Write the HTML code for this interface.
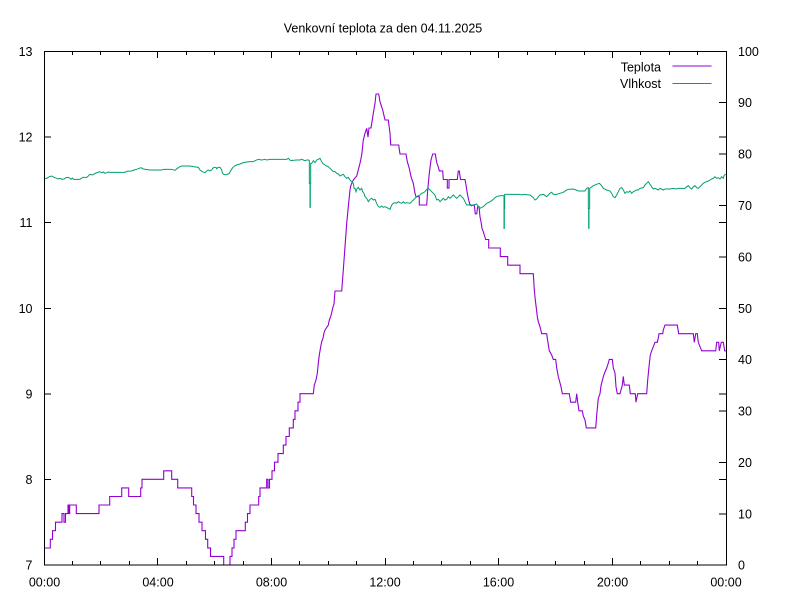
<!DOCTYPE html>
<html>
<head>
<meta charset="utf-8">
<style>
html,body{margin:0;padding:0;background:#fff;}
svg{display:block;}
text{font-family:"Liberation Sans",Arial,sans-serif;font-size:12.5px;fill:#000;}
</style>
</head>
<body>
<svg width="800" height="600" viewBox="0 0 800 600" xmlns="http://www.w3.org/2000/svg">
<rect x="0" y="0" width="800" height="600" fill="#fff"/>
<defs>
<clipPath id="plot"><rect x="44" y="51" width="683" height="514.5"/></clipPath>
</defs>

<!-- title -->
<text x="383" y="32.5" text-anchor="middle">Venkovní teplota za den 04.11.2025</text>

<!-- ticks -->
<g stroke="#000" stroke-width="1" fill="none">
  <!-- left y1 ticks + mirror on right -->
  <path d="M44,51.5h7 M44,137h7 M44,222.5h7 M44,308.5h7 M44,394h7 M44,479.5h7 M44,565h7"/>
  <path d="M726,137h-7 M726,222.5h-7 M726,394h-7 M726,479.5h-7"/>
  <!-- right y2 ticks -->
  <path d="M726,51.5h-7 M726,102.5h-7 M726,154h-7 M726,205.5h-7 M726,257h-7 M726,308.5h-7 M726,359.5h-7 M726,411h-7 M726,462.5h-7 M726,514h-7 M726,565h-7"/>
  <!-- bottom x ticks -->
  <path d="M44.5,565v-7 M157.5,565v-7 M271.5,565v-7 M385.5,565v-7 M498.5,565v-7 M612.5,565v-7 M726.5,565v-7"/>
  <path d="M72.5,565v-4 M100.5,565v-4 M129.5,565v-4 M186.5,565v-4 M214.5,565v-4 M243.5,565v-4 M299.5,565v-4 M328.5,565v-4 M356.5,565v-4 M413.5,565v-4 M441.5,565v-4 M470.5,565v-4 M527.5,565v-4 M555.5,565v-4 M584.5,565v-4 M640.5,565v-4 M669.5,565v-4 M697.5,565v-4"/>
  <!-- top x ticks (mirror) -->
  <path d="M157.5,51v7 M271.5,51v7 M385.5,51v7 M498.5,51v7 M612.5,51v7"/>
  <path d="M72.5,51v4 M100.5,51v4 M129.5,51v4 M186.5,51v4 M214.5,51v4 M243.5,51v4 M299.5,51v4 M328.5,51v4 M356.5,51v4 M413.5,51v4 M441.5,51v4 M470.5,51v4 M527.5,51v4 M555.5,51v4 M584.5,51v4 M640.5,51v4 M669.5,51v4 M697.5,51v4"/>
</g>

<!-- left labels -->
<g text-anchor="end">
  <text x="32.5" y="56">13</text>
  <text x="32.5" y="141.5">12</text>
  <text x="32.5" y="227">11</text>
  <text x="32.5" y="313">10</text>
  <text x="32.5" y="398.5">9</text>
  <text x="32.5" y="484">8</text>
  <text x="32.5" y="569.5">7</text>
</g>
<!-- right labels -->
<g text-anchor="start">
  <text x="738" y="56">100</text>
  <text x="738" y="107">90</text>
  <text x="738" y="158.5">80</text>
  <text x="738" y="210">70</text>
  <text x="738" y="261.5">60</text>
  <text x="738" y="313">50</text>
  <text x="738" y="364">40</text>
  <text x="738" y="415.5">30</text>
  <text x="738" y="467">20</text>
  <text x="738" y="518.5">10</text>
  <text x="738" y="569.5">0</text>
</g>
<!-- x labels -->
<g text-anchor="middle">
  <text x="44.5" y="586.5">00:00</text>
  <text x="158" y="586.5">04:00</text>
  <text x="271.5" y="586.5">08:00</text>
  <text x="385" y="586.5">12:00</text>
  <text x="498.5" y="586.5">16:00</text>
  <text x="612.5" y="586.5">20:00</text>
  <text x="726" y="586.5">00:00</text>
</g>

<!-- legend -->
<text x="661" y="71.5" text-anchor="end">Teplota</text>
<text x="661" y="88" text-anchor="end">Vlhkost</text>
<line x1="672.5" y1="66" x2="711.5" y2="66" stroke="#9400D3" stroke-width="1"/>
<line x1="672.5" y1="83.5" x2="711.5" y2="83.5" stroke="#009E73" stroke-width="1"/>

<g clip-path="url(#plot)">
<!-- Teplota -->
<polyline fill="none" stroke="#9400D3" stroke-width="1.1" stroke-linejoin="miter" points="
44,548 50.3,548 50.3,539.3 52.5,539.3 52.5,530.7 55.5,530.7 55.5,522.2 62,522.2 62,513.6 64,513.6 64,522.2 65.5,522.2 65.5,513.6 68,513.6 68,505 69,505 69,513.6 69.7,513.6 69.7,505 76.3,505 76.3,513.6 99,513.6 99,505 109.7,505 109.7,496.5 121.7,496.5 121.7,487.9 128.7,487.9 128.7,496.5 140.7,496.5 140.7,487.9 142,487.9 142,479.3 163.7,479.3 163.7,470.8 171.7,470.8 171.7,479.3 177.7,479.3 177.7,487.9 191.7,487.9 191.7,496.5 193.5,496.5 193.5,505 196,505 196,513.6 199,513.6 199,522.2 202,522.2 202,530.7 205.5,530.7 205.5,539.3 207.7,539.3 207.7,547.9 210.5,547.9 210.5,556.4 223.7,556.4 223.7,575 230,575 230,556.4 232,556.4 232,547.9 234,547.9 234,539.3 236,539.3 236,530.7 245.3,530.7 245.3,522.2 247.5,522.2 247.5,513.6 250,513.6 250,505 258.7,505 258.7,496.5 260,496.5 260,487.9 266.7,487.9 266.7,479.3 268,479.3 268,487.9 269.5,487.9 269.5,479.3 272,479.3 272,470.8 274.5,470.8 274.5,462.2 278,462.2 278,453.6 283.3,453.6 283.3,445.1 286,445.1 286,436.5 289.3,436.5 289.3,427.9 293.3,427.9 293.3,419.4 295,419.4 295,410.8 298,410.8 298,402.2 300,402.2 300,393.7 313.3,393.7 314.3,385.1 316,380 317.3,373.3 318.3,363.3 319.3,355 320.7,346.7 321.7,341.7 323,338 324,333 325,330 328.3,325 329.3,320 330.7,316.6 331.7,312.7 332.7,308 334,304 335,291 341.7,291 343.3,270 346.7,223.3 348.3,206.7 350,190 351,185 353.3,180 356.7,176 360,163.3 361.7,155 363.3,140 365,133.3 366.7,128.3 368,137 369,128 371,128 373.3,113.3 375,103.3 376,94 378.7,94 380,101.7 382.7,110 385,120 388.3,120 390,133.3 390.7,145 398.7,145 400,154 406,154 407.3,161.7 409.3,168.3 411,176.7 413.3,183.3 415,193.3 416,196.7 419.3,196.7 419.3,205 426.7,205 427.7,190 429.3,173.3 431,160 432.7,154 435.3,154 436.7,162.4 438.3,167 439.3,170.9 442.7,170.9 443.3,179.5 447.3,179.5 447.3,188.1 449,188.1 449,179.5 457.3,179.5 458.3,171 459.3,171 460.5,179.5 465,179.5 466,185 467.3,193.3 468.7,200 470,205.2 474.3,205.2 475.3,213.8 476.7,213.8 477.7,206.7 479,206.7 480,216.7 481,221.7 482,228.3 483.3,231.7 484.3,235 485.7,239.5 488.7,239.5 488.7,248 500.3,248 500.3,256.6 507.7,256.6 507.7,265.2 520,265.2 520,273.7 533.3,273.7 534.3,290 535.3,300 536.3,308 537.3,316.6 538.3,321.7 540,326.7 541.7,333.7 546.7,333.7 547.3,338.3 549.3,350.8 551.7,355 553.3,359.4 555.7,359.4 556.7,368 558.3,376.5 561,386.7 562.3,393.7 569.3,393.7 570.7,402.2 575.7,402.2 576.7,393.7 577.7,402.2 579,410.8 582.3,410.8 583.3,416 585,420 586.3,427.9 595.7,427.9 596.7,415 598.3,398.3 600,393.7 601,385.7 603.3,376.7 605,372 606.7,368 608.3,363 609.3,359.4 612.3,359.4 613.3,368 615,373 616,386.7 617.3,393.7 620,393.7 621,390 622.3,385.1 623.3,376.5 624.3,385.1 629.3,385.1 630.3,393.7 635.3,393.7 636,402.2 637.7,393.7 646.7,393.7 647.7,380 649,366.7 650.3,355 651.7,350.8 653.3,346.7 655,342.3 657.3,342.3 658.3,338 659,333.7 662.7,333.7 663.3,330 665,325.1 677.3,325.1 678.7,333.7 693.3,333.7 694.3,342.3 695.7,333.7 697.3,333.7 698.3,342.3 700,346.7 701.7,350.8 715.7,350.8 716.7,342.3 718.7,342.3 719.3,350.8 721.3,342.3 723.3,342.3 724.7,350.8 726,350.8"/>

<!-- Vlhkost -->
<g fill="none" stroke="#009E73" stroke-width="3" stroke-linejoin="miter">
<polyline transform="translate(40,150) scale(0.33333)" points="12,85 20,85 28,80 35,78 42,82 50,85 55,87 60,85 65,88 72,87 78,83 85,82 90,85 93,88 97,84 100,88 120,88 128,82 140,82 145,78 150,73 158,75 165,70 172,68 178,65 185,68 190,66 195,70 200,68 205,66 210,67 255,67 260,64 275,63 282,60 290,58 298,55 303,53 310,57 330,60 365,60 370,58 395,58 405,61 412,55 420,50 425,48 450,48 460,50 475,52 480,60 487,65 495,68 500,63 505,60 510,62 515,60 518,55 522,52 528,52 530,56 535,52 540,52 545,60 548,70 552,74 560,74 568,70 572,62 578,53 585,47 590,45 600,42 610,38 620,36 630,35 640,35 645,32 655,28 665,30 675,28 680,30 690,28 740,28 745,25 750,30"/>
<polyline transform="translate(290,150) scale(0.33333)" points="0,32 20,30 30,30 35,28 40,30 45,32 50,30 55,30 58,32 58,100 60,100 60,172 61,172 61,100 62,100 62,40 65,40 70,32 75,38 80,30 85,28 90,25 95,35 100,42 105,45 110,48 115,50 120,55 125,60 130,65 135,65 140,70 145,72 150,78 155,75 160,73 165,80 170,85 175,82 180,90 185,95 190,100 192,115 195,115 198,125 200,118 205,112 210,120 215,115 218,125 222,130 225,140 230,145 235,155 240,148 245,145 250,150 255,148 260,160 265,170 270,172 275,168 280,172 285,170 295,175 300,178 305,165 310,160 315,158 320,160 325,155 330,158 335,160 340,155 345,160 350,158 360,160 365,155 370,150 375,145 380,140 385,137 390,135 395,130 400,128 405,125 410,118 415,115 420,120 425,125 430,130 435,135 440,150 445,148 450,155 455,150 460,145 465,150 470,148 475,140 480,145 485,140 490,135 495,140 500,145 505,140 510,135 515,140 520,145 525,155 530,165 535,165 540,162 545,168 550,165 560,162 565,170 570,175 575,172 580,170 585,165 590,160 595,158 600,155 605,152 610,148 615,143 620,140 625,138 630,138"/>
<polyline transform="translate(500,165) scale(0.33333)" points="0,92 10,92 12,92 12,190 13,190 13,130 14,130 14,88 60,88 65,90 70,88 90,90 100,98 105,105 110,102 115,95 120,90 130,88 140,95 150,85 155,82 160,88 170,88 180,85 190,82 200,75 205,73 220,72 228,75 235,78 255,78 260,70 264,68 265,68 265,130 266,130 266,190 267,190 267,130 269,130 269,70 280,62 290,58 298,55 303,60 310,70 320,75 330,78 335,85 340,95 345,98 350,90 355,80 360,70 365,68 370,75 375,85 380,80 385,82 390,78 395,85 400,80 410,75 415,75 420,70 430,68 435,60 440,55 445,50 450,58 455,65 460,72 465,70 475,75 480,70 490,75 495,72 510,72 520,70 530,72 535,70 555,70 560,65 565,62 570,68 575,72 580,65 585,62 590,68 595,70 600,65 605,60 610,55 615,52 620,50 625,48 630,45 635,42 640,40 645,35 650,40 655,38 660,42 665,35 670,40 673,30 678,28"/>
</g>
</g>

<!-- frame -->
<rect x="44.5" y="51.5" width="682" height="513.5" fill="none" stroke="#000" stroke-width="1"/>
</svg>
</body>
</html>
